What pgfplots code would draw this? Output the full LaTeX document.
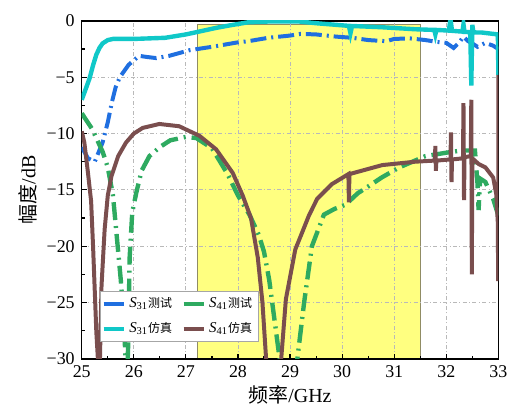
\documentclass[border=0pt]{standalone}
\usepackage{fontspec}
\setmainfont{Liberation Serif}
\newfontfamily\cjk{Noto Sans CJK SC}
\usepackage{pgfplots}
\pgfplotsset{compat=1.18}

\definecolor{cS31m}{RGB}{31,111,224}
\definecolor{cS31s}{RGB}{16,200,200}
\definecolor{cS41m}{RGB}{46,170,96}
\definecolor{cS41s}{RGB}{122,78,78}
\definecolor{band}{RGB}{255,255,128}

\begin{document}
\begin{tikzpicture}
\begin{axis}[
  set layers,
  scale only axis, width=209pt, height=169.5pt,
  xmin=25, xmax=33, ymin=-30, ymax=0,
  xtick={25,26,27,28,29,30,31,32,33},
  xticklabels={25,26,27,28,29,30,31,32,33},
  ytick={-30,-25,-20,-15,-10,-5,0},
  yticklabels={−30,−25,−20,−15,−10,−5,0},
  minor x tick num=1, minor y tick num=1,
  xtick pos=bottom, ytick pos=left,
  tick align=inside,
  major tick length=2.5pt, minor tick length=1.6pt,
  tick style={black, line width=0.6pt},
  axis line style={line width=0.75pt},
  ticklabel style={font=\fontsize{9}{10}\selectfont},
  grid=major,
  major grid style={gray!55, line width=0.4pt, dash pattern=on 2pt off 1.2pt on 0.5pt off 1.2pt},
  xlabel={{\cjk 频率}/GHz}, ylabel={{\cjk 幅度}/dB},
  label style={font=\fontsize{10}{12}\selectfont},
  xlabel style={yshift=3pt},
  ylabel style={yshift=-2pt},
  legend columns=2,
  legend style={at={(0.043,0.05)}, anchor=south west, draw=gray!70, line width=0.5pt,
    font=\fontsize{7.5}{9}\selectfont, inner sep=1pt,
    /tikz/every even column/.append style={column sep=3pt},
    row sep=2pt},
  legend cell align=left,
  legend image code/.code={\draw[#1, solid, line width=1.6pt] (0pt,0pt) -- (10pt,0pt);},
]
% pass band
\addplot[on layer=axis background, fill=band, draw=gray!70!olive, line width=0.5pt, forget plot]
  coordinates {(27.22,-30) (27.22,-0.28) (31.5,-0.28) (31.5,-30) (27.22,-30)};

% S31 measured
\addplot[cS31m, line width=2pt, dash pattern=on 8pt off 2.5pt on 1pt off 2.5pt] coordinates {
 (25.0,-11.2) (25.12,-12.2) (25.25,-12.5) (25.4,-10.8) (25.5,-9.0) (25.58,-7.2)
 (25.65,-5.9) (25.73,-5.0) (25.9,-3.9) (26.1,-3.1) (26.25,-3.2) (26.43,-3.3)
 (26.68,-3.1) (27.07,-2.6) (27.5,-2.3) (28.0,-1.9) (28.2,-1.8) (28.58,-1.5)
 (29.0,-1.3) (29.2,-1.15) (29.5,-1.2) (29.9,-1.4) (30.2,-1.5) (30.5,-1.7)
 (30.85,-1.8) (31.0,-1.6) (31.3,-1.55) (31.6,-1.7) (31.8,-1.85) (32.0,-1.95)
 (32.14,-2.4) (32.25,-1.9) (32.33,-1.4) (32.42,-1.8) (32.5,-2.0) (32.6,-2.3)
 (32.75,-1.95) (32.9,-2.2) (33.0,-2.5)
};
\addlegendentry{\textit{S}\textsubscript{31}{\cjk\fontsize{6}{7}\selectfont 测试}}

% S41 measured
\addplot[cS41m, line width=2.2pt, dash pattern=on 9pt off 3pt on 1pt off 3pt] coordinates {
 (25.0,-8.2) (25.2,-9.6) (25.4,-11.6) (25.5,-13.0) (25.6,-15.5) (25.67,-19.0)
 (25.75,-23.0) (25.82,-27.5) (25.86,-33) (25.89,-29) (25.92,-21) (25.97,-17)
 (26.05,-15.2) (26.15,-13.3) (26.3,-12.0) (26.5,-11.2) (26.7,-10.6) (27.0,-10.3)
 (27.2,-10.4) (27.5,-11.3) (27.8,-13.6) (28.0,-15.5) (28.22,-17.2) (28.4,-19.0)
 (28.5,-20.5) (28.6,-23) (28.7,-26.5) (28.8,-30) (28.95,-35) (29.05,-35)
 (29.14,-30) (29.27,-25) (29.42,-20) (29.65,-17.2) (29.85,-16.7) (30.07,-16.3)
 (30.3,-15.3) (30.5,-14.7) (30.76,-13.9) (31.1,-13.0) (31.4,-12.4) (31.6,-12.0)
 (32.0,-11.7) (32.3,-11.5) (32.55,-11.5) (32.6,-14.5) (32.62,-16.8) (32.65,-14.0)
 (32.75,-14.3) (32.9,-15.8) (33.0,-17.3)
};
\addlegendentry{\textit{S}\textsubscript{41}{\cjk\fontsize{6}{7}\selectfont 测试}}

% S31 simulated
\addplot[cS31s, line width=2.2pt] coordinates {
 (25.0,-7.0) (25.08,-6.0) (25.15,-5.1) (25.22,-3.9) (25.28,-3.0) (25.34,-2.4)
 (25.4,-2.0) (25.5,-1.7) (25.6,-1.6) (26.0,-1.6) (26.6,-1.5) (27.0,-1.2)
 (27.25,-0.95) (27.6,-0.6) (27.9,-0.35) (28.2,-0.12) (28.6,-0.05) (29.17,-0.05)
 (29.49,-0.2) (30.13,-0.44) (30.16,-1.1) (30.19,-0.45) (30.76,-0.56) (31.4,-0.74)
 (31.77,-0.8) (31.79,-1.2) (31.81,-0.8) (32.05,-0.86) (32.08,0.2) (32.11,-0.88)
 (32.31,-0.95) (32.33,-0.3) (32.35,-0.98) (32.46,-1.0) (32.48,-5.75) (32.5,-0.35)
 (32.52,-1.02) (32.68,-1.03) (32.99,-1.2) (33.0,-4.8)
};
\addlegendentry{\textit{S}\textsubscript{31}{\cjk\fontsize{6}{7}\selectfont 仿真}}

% S41 simulated
\addplot[cS41s, line width=2pt] coordinates {
 (25.0,-9.8) (25.05,-10.8) (25.12,-13.5) (25.18,-16.0) (25.22,-20.3) (25.28,-27.6)
 (25.31,-30) (25.33,-36) (25.35,-30) (25.38,-23.5) (25.44,-18.5) (25.5,-15.5)
 (25.57,-13.8) (25.7,-12.0) (25.85,-10.8) (26.0,-10.0) (26.17,-9.5) (26.49,-9.15)
 (26.87,-9.35) (27.26,-10.2) (27.58,-11.4) (27.9,-13.5) (28.09,-15.5) (28.25,-17.5)
 (28.38,-21) (28.47,-25) (28.54,-30) (28.68,-38) (28.83,-30) (28.92,-24.7)
 (29.1,-20.3) (29.36,-17.3) (29.52,-15.8) (29.8,-14.5) (30.12,-13.6) (30.13,-16.1)
 (30.14,-13.6) (30.77,-12.8) (31.4,-12.5) (31.78,-12.4) (31.79,-11.1) (31.8,-13.3)
 (31.81,-12.4) (32.08,-12.3) (32.09,-9.9) (32.1,-14.3) (32.11,-12.3) (32.32,-12.2)
 (32.33,-7.3) (32.34,-15.9) (32.35,-12.1) (32.47,-12.0) (32.48,-7.0) (32.49,-22.5)
 (32.5,-12.2) (32.62,-12.7) (32.75,-13.0) (32.9,-13.9) (32.96,-15.4) (32.99,-18)
 (32.995,-23.1) (33.0,-4.8)
};
\addlegendentry{\textit{S}\textsubscript{41}{\cjk\fontsize{6}{7}\selectfont 仿真}}
\end{axis}
\path ([shift={(-41pt,-26.5pt)}]current axis.south west) rectangle ([shift={(7pt,10.5pt)}]current axis.north east);
\end{tikzpicture}
\end{document}
